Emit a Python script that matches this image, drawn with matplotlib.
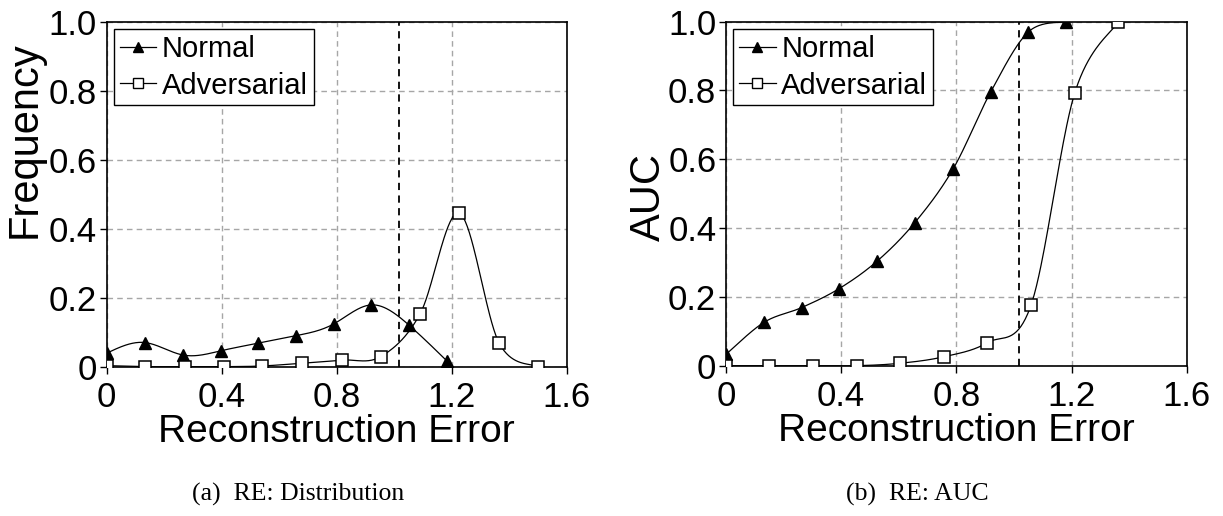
import matplotlib
matplotlib.use("Agg")
import matplotlib.pyplot as plt
import numpy as np

plt.rcParams['font.family'] = ['Liberation Sans', 'DejaVu Sans']

# (a) RE: Distribution
dist_normal_x = [0.0, 0.132, 0.264, 0.397, 0.527, 0.659, 0.790, 0.919, 1.052, 1.184]
dist_normal_y = [0.039, 0.070, 0.034, 0.046, 0.068, 0.090, 0.124, 0.179, 0.120, 0.016]
dist_adv_x = [0.0, 0.135, 0.271, 0.408, 0.540, 0.680, 0.818, 0.953, 1.090, 1.226, 1.364, 1.501]
dist_adv_y = [0.003, 0.0, 0.0, 0.0, 0.002, 0.010, 0.019, 0.029, 0.153, 0.445, 0.070, 0.0]

# (b) RE: AUC
auc_normal_x = [0.0, 0.132, 0.263, 0.393, 0.525, 0.656, 0.789, 0.919, 1.050, 1.181]
auc_normal_y = [0.033, 0.126, 0.169, 0.224, 0.304, 0.416, 0.572, 0.795, 0.970, 1.0]
auc_adv_x = [0.0, 0.150, 0.303, 0.454, 0.604, 0.757, 0.908, 1.059, 1.211, 1.363]
auc_adv_y = [0.0, 0.0, 0.0, 0.0, 0.007, 0.026, 0.067, 0.175, 0.792, 1.0]

threshold = 1.018
captions = ["(a)  RE: Distribution", "(b)  RE: AUC"]
ylabels = ["Frequency", "AUC"]


def smooth(x, y, n=40):
    # Excel-style smoothed line: Catmull-Rom through the points as cubic Bezier
    p = np.column_stack([x, y]).astype(float)
    p = np.vstack([p[0], p, p[-1]])
    out = []
    t = np.linspace(0, 1, n)[:, None]
    for i in range(1, len(p) - 2):
        b0 = p[i]
        b3 = p[i + 1]
        b1 = b0 + (p[i + 1] - p[i - 1]) / 6
        b2 = b3 - (p[i + 2] - p[i]) / 6
        seg = ((1 - t) ** 3) * b0 + 3 * ((1 - t) ** 2) * t * b1 + 3 * (1 - t) * t ** 2 * b2 + t ** 3 * b3
        out.append(seg)
    c = np.vstack(out)
    return c[:, 0], c[:, 1]


def natural(x, y, n=400):
    # natural cubic spline through the points
    x = np.asarray(x, float)
    y = np.asarray(y, float)
    m = len(x)
    h = np.diff(x)
    A = np.zeros((m, m))
    r = np.zeros(m)
    A[0, 0] = 1
    A[-1, -1] = 1
    for i in range(1, m - 1):
        A[i, i - 1] = h[i - 1]
        A[i, i] = 2 * (h[i - 1] + h[i])
        A[i, i + 1] = h[i]
        r[i] = 6 * ((y[i + 1] - y[i]) / h[i] - (y[i] - y[i - 1]) / h[i - 1])
    M = np.linalg.solve(A, r)
    xs = np.linspace(x[0], x[-1], n)
    k = np.clip(np.searchsorted(x, xs) - 1, 0, m - 2)
    a = (x[k + 1] - xs) / h[k]
    b = (xs - x[k]) / h[k]
    ys = a * y[k] + b * y[k + 1] + ((a ** 3 - a) * M[k] + (b ** 3 - b) * M[k + 1]) * h[k] ** 2 / 6
    return xs, ys


fig = plt.figure(figsize=(12.23, 5.16), dpi=100)
ax1 = fig.add_axes([0.0872, 0.2894, 0.3762, 0.6686])
ax2 = fig.add_axes([0.5936, 0.2913, 0.3767, 0.6667])

series = [(ax1, dist_normal_x, dist_normal_y, dist_adv_x, dist_adv_y),
          (ax2, auc_normal_x, auc_normal_y, auc_adv_x, auc_adv_y)]

for k, (ax, nx, ny, ax_x, ax_y) in enumerate(series):
    ax.set_axisbelow(True)
    ax.grid(True, color='#a6a6a6', linestyle=(0, (4, 3)), linewidth=1.0)
    if k == 0:
        sx, sy = natural(nx, ny)
    else:
        sx, sy = smooth(nx, ny)
    ax.plot(sx, sy, color='black', linewidth=0.9, zorder=3)
    sx, sy = smooth(ax_x, ax_y)
    ax.plot(sx, sy, color='black', linewidth=0.9, zorder=3)
    ax.plot(nx, ny, linestyle='none', marker='^', markersize=8, color='black', zorder=4)
    ax.plot(ax_x, ax_y, linestyle='none', marker='s', markersize=8.5, markerfacecolor='white',
            markeredgecolor='black', markeredgewidth=1.1, zorder=4)
    # legend proxies
    ax.plot([], [], color='black', linewidth=0.9, marker='^', markersize=6.5, label='Normal')
    ax.plot([], [], color='black', linewidth=0.9, marker='s', markersize=7, markerfacecolor='white',
            markeredgecolor='black', label='Adversarial')
    ax.axvline(threshold, color='black', linestyle=(0, (4, 3)), linewidth=1.3, zorder=2)

    ax.set_xlim(0, 1.6)
    ax.set_ylim(0, 1.0)
    ax.set_xticks([0, 0.4, 0.8, 1.2, 1.6])
    ax.set_xticklabels(["0", "0.4", "0.8", "1.2", "1.6"])
    ax.set_yticks([0, 0.2, 0.4, 0.6, 0.8, 1.0])
    ax.set_yticklabels(["0", "0.2", "0.4", "0.6", "0.8", "1.0"])
    ax.tick_params(direction='out', length=5, width=1, labelsize=25)
    ax.tick_params(axis='x', pad=5)
    ax.tick_params(axis='y', pad=2)
    for s in ax.spines.values():
        s.set_linewidth(1.2)
    ax.set_xlabel("Reconstruction Error", fontsize=28, labelpad=0)
    ax.set_ylabel(ylabels[k], fontsize=30)

    leg = ax.legend(loc='upper left', fontsize=21, frameon=True, fancybox=False,
                    edgecolor='black', framealpha=1, borderpad=0.2, labelspacing=0.3,
                    handlelength=1.25, handletextpad=0.2, borderaxespad=0.25)
    leg.get_frame().set_linewidth(1.0)

ax1.yaxis.set_label_coords(-0.134, 0.658)
ax2.yaxis.set_label_coords(-0.124, 0.49)

fig.text(0.2436, 0.041, captions[0], ha='center', va='center', fontsize=18.5, family='Liberation Serif')
fig.text(0.7498, 0.041, captions[1], ha='center', va='center', fontsize=18.5, family='Liberation Serif')

plt.savefig('out.png', dpi=100)
